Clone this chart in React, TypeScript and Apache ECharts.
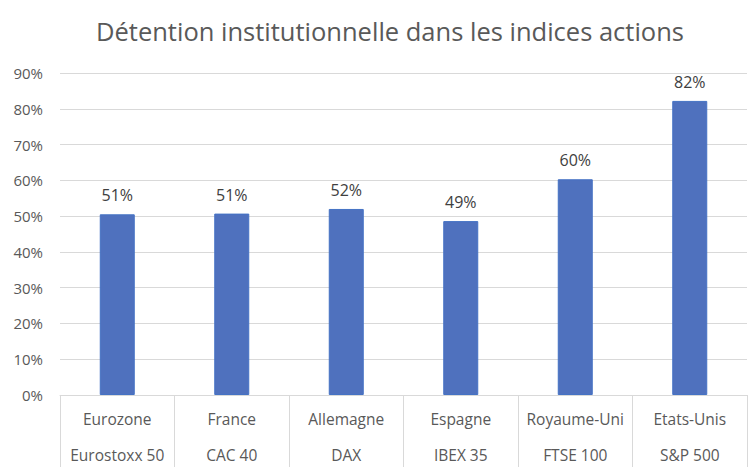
import React, { useEffect, useRef } from "react";
import * as echarts from "echarts";

const regions = ["Eurozone", "France", "Allemagne", "Espagne", "Royaume-Uni", "Etats-Unis"];
const indices = ["Eurostoxx 50", "CAC 40", "DAX", "IBEX 35", "FTSE 100", "S&P 500"];
const holdings = [50.5, 50.7, 52.0, 48.6, 60.3, 82.2];
const yTicks = { min: 0, max: 90, interval: 10 };

export default function App() {
  const ref = useRef<HTMLDivElement>(null);
  useEffect(() => {
    const chart = echarts.init(ref.current!, null, { renderer: "svg" });
    const font = "'Open Sans', 'Noto Sans', sans-serif";
    chart.setOption({
      animation: false,
      backgroundColor: "#ffffff",
      title: {
        text: "Détention institutionnelle dans les indices actions",
        left: 91,
        top: 13,
        textStyle: { fontFamily: font, fontSize: 25.5, fontWeight: "normal", color: "#595959" },
      },
      grid: { left: 60, right: 7, top: 73, bottom: 79, containLabel: false },
      xAxis: {
        type: "category",
        data: regions.map((r, i) => r + "\n" + indices[i]),
        axisLine: { show: true, lineStyle: { color: "#d9d9d9", width: 1 } },
        axisTick: { show: true, length: 72, interval: 0, lineStyle: { color: "#d9d9d9" } },
        axisLabel: {
          interval: 0,
          margin: 6,
          lineHeight: 36,
          fontFamily: font,
          fontSize: 15.5,
          color: "#595959",
        },
      },
      yAxis: {
        type: "value",
        min: yTicks.min,
        max: yTicks.max,
        interval: yTicks.interval,
        axisLine: { show: false },
        axisTick: { show: false },
        splitLine: { lineStyle: { color: "#d9d9d9", width: 1 } },
        axisLabel: {
          formatter: "{value}%",
          margin: 17,
          fontFamily: font,
          fontSize: 15,
          color: "#595959",
        },
      },
      series: [
        {
          type: "bar",
          data: holdings,
          barWidth: 35,
          itemStyle: { color: "#4f71be", borderColor: "#4472c4", borderWidth: 1 },
          label: {
            show: true,
            position: "top",
            distance: 11,
            fontFamily: font,
            fontSize: 16,
            color: "#404040",
            formatter: (p: any) => Math.round(p.value) + "%",
          },
        },
      ],
    });
    return () => chart.dispose();
  }, []);
  return <div ref={ref} style={{ width: 754, height: 474, position: "absolute", left: 0, top: 0 }} />;
}
